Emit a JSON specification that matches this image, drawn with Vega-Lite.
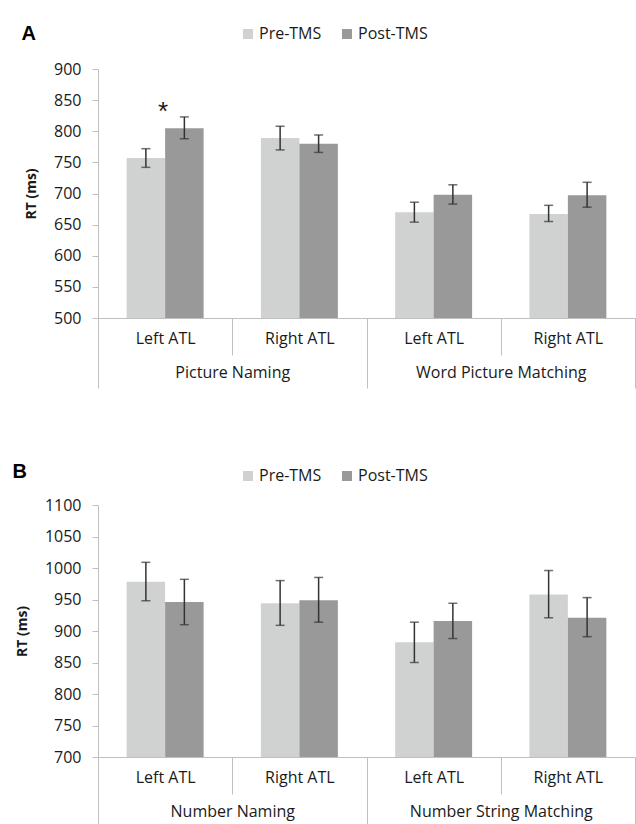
{
  "$schema": "https://vega.github.io/schema/vega-lite/v6.json",
  "background": "white",
  "padding": {"left": 12, "top": 24, "right": 0, "bottom": 0},
  "spacing": 187,
  "bounds": "flush",
  "resolve": {"scale": {"color": "independent"}, "legend": {"color": "independent"}},
  "config": {
    "font": "Open Sans",
    "view": {"stroke": null},
    "axis": {"grid": false, "labelFont": "Open Sans", "labelFontSize": 16, "labelColor": "#1a1a1a", "labelLimit": 400, "domainColor": "#bfbfbf", "tickColor": "#bfbfbf", "titleFont": "Open Sans", "titleColor": "#1a1a1a"},
    "axisY": {"tickCount": 9, "labelOverlap": false},
    "legend": {"labelFont": "Open Sans", "labelFontSize": 16, "labelColor": "#1a1a1a", "symbolType": "square", "symbolSize": 100, "symbolStrokeWidth": 0, "columnPadding": 17, "labelOffset": 3, "padding": 0},
    "title": {"font": "Liberation Sans", "fontSize": 20, "fontWeight": "bold", "color": "#000000"}
  },
  "datasets": {
    "a": [
      {"task": "Picture Naming", "site": "Left ATL", "cell": "Picture Naming|Left ATL", "cond": "Pre-TMS", "rt": 757, "lo": 742, "hi": 772},
      {"task": "Picture Naming", "site": "Left ATL", "cell": "Picture Naming|Left ATL", "cond": "Post-TMS", "rt": 805, "lo": 788, "hi": 823},
      {"task": "Picture Naming", "site": "Right ATL", "cell": "Picture Naming|Right ATL", "cond": "Pre-TMS", "rt": 789, "lo": 770, "hi": 808},
      {"task": "Picture Naming", "site": "Right ATL", "cell": "Picture Naming|Right ATL", "cond": "Post-TMS", "rt": 780, "lo": 766, "hi": 794},
      {"task": "Word Picture Matching", "site": "Left ATL", "cell": "Word Picture Matching|Left ATL", "cond": "Pre-TMS", "rt": 670, "lo": 654, "hi": 686},
      {"task": "Word Picture Matching", "site": "Left ATL", "cell": "Word Picture Matching|Left ATL", "cond": "Post-TMS", "rt": 698, "lo": 683, "hi": 714},
      {"task": "Word Picture Matching", "site": "Right ATL", "cell": "Word Picture Matching|Right ATL", "cond": "Pre-TMS", "rt": 667, "lo": 655, "hi": 681},
      {"task": "Word Picture Matching", "site": "Right ATL", "cell": "Word Picture Matching|Right ATL", "cond": "Post-TMS", "rt": 697, "lo": 678, "hi": 718}
    ],
    "b": [
      {"task": "Number Naming", "site": "Left ATL", "cell": "Number Naming|Left ATL", "cond": "Pre-TMS", "rt": 978, "lo": 948, "hi": 1009},
      {"task": "Number Naming", "site": "Left ATL", "cell": "Number Naming|Left ATL", "cond": "Post-TMS", "rt": 946, "lo": 910, "hi": 982},
      {"task": "Number Naming", "site": "Right ATL", "cell": "Number Naming|Right ATL", "cond": "Pre-TMS", "rt": 944, "lo": 909, "hi": 980},
      {"task": "Number Naming", "site": "Right ATL", "cell": "Number Naming|Right ATL", "cond": "Post-TMS", "rt": 949, "lo": 914, "hi": 985},
      {"task": "Number String Matching", "site": "Left ATL", "cell": "Number String Matching|Left ATL", "cond": "Pre-TMS", "rt": 882, "lo": 850, "hi": 914},
      {"task": "Number String Matching", "site": "Left ATL", "cell": "Number String Matching|Left ATL", "cond": "Post-TMS", "rt": 916, "lo": 888, "hi": 944},
      {"task": "Number String Matching", "site": "Right ATL", "cell": "Number String Matching|Right ATL", "cond": "Pre-TMS", "rt": 958, "lo": 921, "hi": 996},
      {"task": "Number String Matching", "site": "Right ATL", "cell": "Number String Matching|Right ATL", "cond": "Post-TMS", "rt": 921, "lo": 891, "hi": 953}
    ],
    "stars": [
      {"cell": "Picture Naming|Left ATL", "label": "*", "rt": 838}
    ]
  },
  "vconcat": [
    {
      "title": {"text": "A", "anchor": "start", "frame": "bounds", "offset": 4, "dx": -3, "dy": 22},
      "width": 537,
      "height": 249,
      "data": {"name": "a"},
      "layer": [
        {
          "layer": [
            {
              "mark": {"type": "bar", "clip": true},
              "encoding": {
                "x": {"field": "cell", "type": "nominal", "sort": null, "scale": {"paddingInner": 0, "paddingOuter": 0},
                  "axis": {"title": null, "labelAngle": 0, "labelExpr": "split(datum.value, '|')[1]", "tickBand": "extent", "tickSize": 37, "labelPadding": -25}},
                "xOffset": {"field": "cond", "type": "nominal", "sort": ["Pre-TMS", "Post-TMS"], "scale": {"paddingInner": 0, "paddingOuter": 0.744}},
                "y": {"field": "rt", "type": "quantitative", "scale": {"domain": [500, 900], "nice": false, "zero": false},
                  "axis": {"title": "RT (ms)", "titleFontWeight": "bold", "titleFontSize": 14, "titlePadding": 15, "values": [500, 550, 600, 650, 700, 750, 800, 850, 900], "tickCount": 9, "format": "d", "labelOverlap": false, "tickSize": 6, "labelPadding": 11}},
                "color": {"field": "cond", "type": "nominal", "scale": {"domain": ["Pre-TMS", "Post-TMS"], "range": ["#d0d2d1", "#999999"]},
                  "legend": {"title": null, "orient": "none", "direction": "horizontal", "legendX": 142, "legendY": -43}}
              }
            },
            {
              "mark": {"type": "rule", "color": "#333333", "strokeWidth": 1.5},
              "encoding": {
                "x": {"field": "cell", "type": "nominal", "sort": null},
                "xOffset": {"field": "cond", "type": "nominal", "sort": ["Pre-TMS", "Post-TMS"]},
                "y": {"field": "lo", "type": "quantitative", "axis": {"title": "RT (ms)", "values": [500, 550, 600, 650, 700, 750, 800, 850, 900], "tickCount": 9, "format": "d", "labelOverlap": false}},
                "y2": {"field": "hi"}
              }
            },
            {
              "mark": {"type": "tick", "color": "#333333", "size": 9, "thickness": 1.5},
              "encoding": {
                "x": {"field": "cell", "type": "nominal", "sort": null},
                "xOffset": {"field": "cond", "type": "nominal", "sort": ["Pre-TMS", "Post-TMS"]},
                "y": {"field": "hi", "type": "quantitative", "axis": {"title": "RT (ms)", "values": [500, 550, 600, 650, 700, 750, 800, 850, 900], "tickCount": 9, "format": "d", "labelOverlap": false}}
              }
            },
            {
              "mark": {"type": "tick", "color": "#333333", "size": 9, "thickness": 1.5},
              "encoding": {
                "x": {"field": "cell", "type": "nominal", "sort": null},
                "xOffset": {"field": "cond", "type": "nominal", "sort": ["Pre-TMS", "Post-TMS"]},
                "y": {"field": "lo", "type": "quantitative", "axis": {"title": "RT (ms)", "values": [500, 550, 600, 650, 700, 750, 800, 850, 900], "tickCount": 9, "format": "d", "labelOverlap": false}}
              }
            },
            {
              "data": {"name": "stars"},
              "mark": {"type": "text", "font": "Liberation Sans", "fontSize": 26, "color": "#1a1a1a", "baseline": "middle", "dx": -2, "dy": 4},
              "encoding": {
                "x": {"field": "cell", "type": "nominal", "sort": null},
                "y": {"field": "rt", "type": "quantitative", "axis": {"title": "RT (ms)", "values": [500, 550, 600, 650, 700, 750, 800, 850, 900], "tickCount": 9, "format": "d", "labelOverlap": false}},
                "text": {"field": "label"}
              }
            }
          ]
        },
        {
          "mark": {"type": "point", "opacity": 0},
          "encoding": {
            "x": {"field": "task", "type": "nominal", "sort": null, "scale": {"paddingInner": 0, "paddingOuter": 0},
              "axis": {"orient": "bottom", "title": null, "labelAngle": 0, "domain": false, "tickBand": "extent", "tickSize": 70, "labelPadding": -24}}
          }
        }
      ],
      "resolve": {"scale": {"x": "independent"}}
    },
    {
      "title": {"text": "B", "anchor": "start", "frame": "bounds", "offset": 4, "dx": -3, "dy": 18},
      "width": 537,
      "height": 252,
      "data": {"name": "b"},
      "layer": [
        {
          "layer": [
            {
              "mark": {"type": "bar", "clip": true},
              "encoding": {
                "x": {"field": "cell", "type": "nominal", "sort": null, "scale": {"paddingInner": 0, "paddingOuter": 0},
                  "axis": {"title": null, "labelAngle": 0, "labelExpr": "split(datum.value, '|')[1]", "tickBand": "extent", "tickSize": 37, "labelPadding": -25}},
                "xOffset": {"field": "cond", "type": "nominal", "sort": ["Pre-TMS", "Post-TMS"], "scale": {"paddingInner": 0, "paddingOuter": 0.744}},
                "y": {"field": "rt", "type": "quantitative", "scale": {"domain": [700, 1100], "nice": false, "zero": false},
                  "axis": {"title": "RT (ms)", "titleFontWeight": "bold", "titleFontSize": 14, "titlePadding": 15, "values": [700, 750, 800, 850, 900, 950, 1000, 1050, 1100], "tickCount": 9, "format": "d", "labelOverlap": false, "tickSize": 6, "labelPadding": 11}},
                "color": {"field": "cond", "type": "nominal", "scale": {"domain": ["Pre-TMS", "Post-TMS"], "range": ["#d0d2d1", "#999999"]},
                  "legend": {"title": null, "orient": "none", "direction": "horizontal", "legendX": 142, "legendY": -37}}
              }
            },
            {
              "mark": {"type": "rule", "color": "#333333", "strokeWidth": 1.5},
              "encoding": {
                "x": {"field": "cell", "type": "nominal", "sort": null},
                "xOffset": {"field": "cond", "type": "nominal", "sort": ["Pre-TMS", "Post-TMS"]},
                "y": {"field": "lo", "type": "quantitative", "axis": {"title": "RT (ms)", "values": [700, 750, 800, 850, 900, 950, 1000, 1050, 1100], "tickCount": 9, "format": "d", "labelOverlap": false}},
                "y2": {"field": "hi"}
              }
            },
            {
              "mark": {"type": "tick", "color": "#333333", "size": 9, "thickness": 1.5},
              "encoding": {
                "x": {"field": "cell", "type": "nominal", "sort": null},
                "xOffset": {"field": "cond", "type": "nominal", "sort": ["Pre-TMS", "Post-TMS"]},
                "y": {"field": "hi", "type": "quantitative", "axis": {"title": "RT (ms)", "values": [700, 750, 800, 850, 900, 950, 1000, 1050, 1100], "tickCount": 9, "format": "d", "labelOverlap": false}}
              }
            },
            {
              "mark": {"type": "tick", "color": "#333333", "size": 9, "thickness": 1.5},
              "encoding": {
                "x": {"field": "cell", "type": "nominal", "sort": null},
                "xOffset": {"field": "cond", "type": "nominal", "sort": ["Pre-TMS", "Post-TMS"]},
                "y": {"field": "lo", "type": "quantitative", "axis": {"title": "RT (ms)", "values": [700, 750, 800, 850, 900, 950, 1000, 1050, 1100], "tickCount": 9, "format": "d", "labelOverlap": false}}
              }
            }
          ]
        },
        {
          "mark": {"type": "point", "opacity": 0},
          "encoding": {
            "x": {"field": "task", "type": "nominal", "sort": null, "scale": {"paddingInner": 0, "paddingOuter": 0},
              "axis": {"orient": "bottom", "title": null, "labelAngle": 0, "domain": false, "tickBand": "extent", "tickSize": 70, "labelPadding": -24}}
          }
        }
      ],
      "resolve": {"scale": {"x": "independent"}}
    }
  ]
}
